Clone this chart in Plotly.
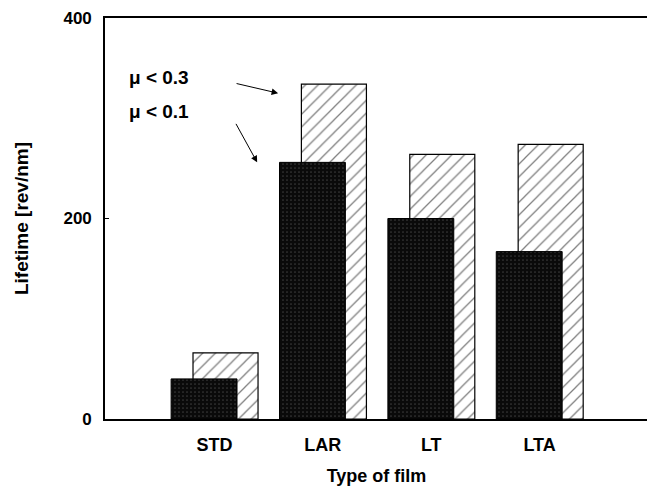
import plotly.graph_objects as go

categories = ["STD", "LAR", "LT", "LTA"]
mu_01 = [40, 256, 200, 167]    # dark bars (mu < 0.1)
mu_03 = [66, 334, 264, 274]    # hatched bars (mu < 0.3)
y_ticks = [0, 200, 400]

xpos = list(range(len(categories)))
FONT = "Liberation Sans, Arial, Helvetica, sans-serif"

fig = go.Figure()
fig.add_trace(go.Bar(
    x=xpos, y=mu_03, name="μ < 0.3",
    offset=-0.198, width=0.60,
    marker=dict(color="white", line=dict(color="black", width=1.2),
                pattern=dict(shape="/", fgcolor="black", bgcolor="white",
                             size=9, solidity=0.14, fillmode="overlay")),
))
fig.add_trace(go.Bar(
    x=xpos, y=mu_01, name="μ < 0.1",
    offset=-0.40, width=0.608,
    marker=dict(color="#0a0a0a", line=dict(color="black", width=1),
                pattern=dict(shape=".", fgcolor="#3a3a3a", bgcolor="#0a0a0a",
                             size=4, solidity=0.15, fillmode="replace")),
))

fig.update_layout(
    barmode="overlay",
    width=647, height=480,
    margin=dict(l=97, r=7, t=10, b=69),
    plot_bgcolor="white", paper_bgcolor="white",
    showlegend=False,
    font=dict(family=FONT, size=18, color="black", weight="bold"),
)
fig.update_xaxes(
    range=[-1.01, 4.0], automargin=False,
    tickvals=xpos, ticktext=categories,
    showline=True, mirror=True, linecolor="black", linewidth=1.6,
    ticks="", showgrid=False, zeroline=False,
    ticklabelstandoff=9,
    tickfont=dict(size=18, family=FONT, weight="bold"),
    title=dict(text="Type of film", font=dict(size=18, family=FONT, weight="bold"), standoff=15),
)
fig.update_yaxes(
    range=[0, 400], automargin=False,
    tickvals=y_ticks, ticktext=[str(v) for v in y_ticks],
    showline=True, mirror=True, linecolor="black", linewidth=1.6,
    ticks="inside", ticklen=4, tickcolor="black",
    showgrid=False, zeroline=False,
    ticklabelstandoff=8, ticklabeloverflow="allow",
    tickfont=dict(size=17, family=FONT, weight="bold"),
    title=dict(text="Lifetime [rev/nm]", font=dict(size=19, family=FONT, weight="bold"), standoff=30),
)

fig.add_annotation(x=-0.807, y=341, xref="x", yref="y", text="μ < 0.3",
                   showarrow=False, xanchor="left", yanchor="middle",
                   font=dict(size=19, family=FONT, weight="bold"))
fig.add_annotation(x=-0.807, y=307, xref="x", yref="y", text="μ < 0.1",
                   showarrow=False, xanchor="left", yanchor="middle",
                   font=dict(size=19, family=FONT, weight="bold"))
fig.add_annotation(x=0.587, y=325, xref="x", yref="y", text="",
                   showarrow=True, ax=-43, ay=-10, arrowhead=2,
                   arrowsize=1.3, arrowwidth=1, arrowcolor="black")
fig.add_annotation(x=0.394, y=256, xref="x", yref="y", text="",
                   showarrow=True, ax=-22, ay=-40, arrowhead=2,
                   arrowsize=1.3, arrowwidth=1, arrowcolor="black")

fig.write_html("out.html")
